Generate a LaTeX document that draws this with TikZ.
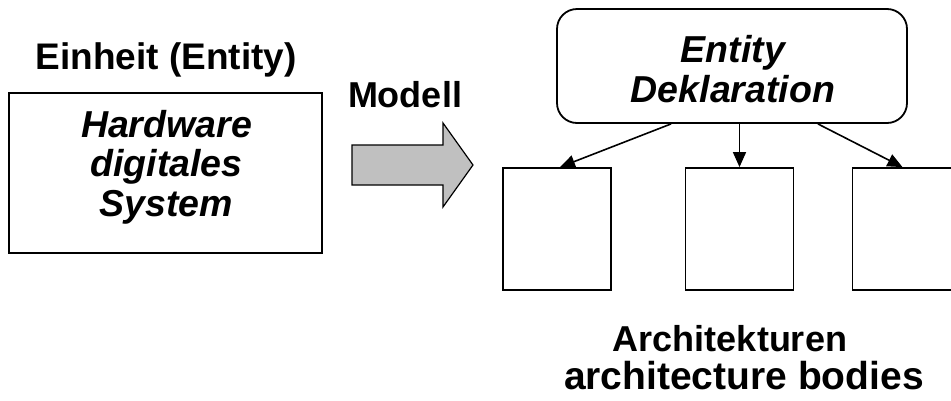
\documentclass[tikz,border=0pt]{standalone}
\usepackage{fontspec}
\setmainfont{Liberation Sans}
\usetikzlibrary{arrows.meta,calc}

\tikzset{
  box/.style={draw=black, line width=1.8pt, fill=white, inner sep=0pt},
  label text/.style={font=\fontsize{36}{40}\selectfont\bfseries, align=center, inner sep=0pt},
  inner text/.style={font=\fontsize{37.5}{39.5}\selectfont\bfseries\itshape, align=center, inner sep=0pt},
  link/.style={line width=1.6pt, -{Triangle[length=15pt,width=13pt]}},
  bigarrow/.style={draw=black, line width=1.2pt, fill={rgb,255:red,192;green,192;blue,192}}
}

\begin{document}
\begin{tikzpicture}[x=1pt, y=-1pt]
  \useasboundingbox (0,0) rectangle (951,400);

  % entity on the left
  \node[box, minimum width=313pt, minimum height=160pt] (hw) at (165.5,173) {};
  \node[inner text] (hwtext) at (166.5,167) {Hardware\\digitales\\System};
  \node[label text, font=\fontsize{37}{40}\selectfont\bfseries, anchor=base] (einheit) at (166,69) {Einheit (Entity)};

  % model arrow
  \node[label text, anchor=base] (modell) at (405,107) {Modell};
  \draw[bigarrow] (352,145) -- (443,145) -- (443,123) -- (473,165)
    -- (443,207) -- (443,185) -- (352,185) -- cycle;

  % entity declaration
  \node[box, rounded corners=20pt, minimum width=350pt, minimum height=114pt] (ent) at (732,66) {};
  \node[inner text, font=\fontsize{37.5}{40}\selectfont\bfseries\itshape] (enttext) at (733,69.5) {Entity\\Deklaration};

  % architecture bodies
  \node[box, minimum width=108pt, minimum height=122pt] (b1) at (557,229) {};
  \node[box, minimum width=108pt, minimum height=122pt] (b2) at (739.5,229) {};
  \node[box, minimum width=108pt, minimum height=122pt] (b3) at (906.5,229) {};

  \coordinate (s1) at ($(ent.south west)+(115,0)$);
  \coordinate (s3) at ($(ent.south east)+(-90,0)$);
  \draw[link] (s1) -- ($(b1.north)+(3,0)$);
  \draw[link] (ent.south -| b2.north) -- (b2.north);
  \draw[link] (s3) -- ($(b3.north)+(-4,0)$);

  \node[label text, anchor=base] (arch) at (730,351) {Architekturen};
  \node[label text, font=\fontsize{39}{40}\selectfont\bfseries, anchor=base] (bodies) at (744,389) {architecture bodies};
\end{tikzpicture}
\end{document}
